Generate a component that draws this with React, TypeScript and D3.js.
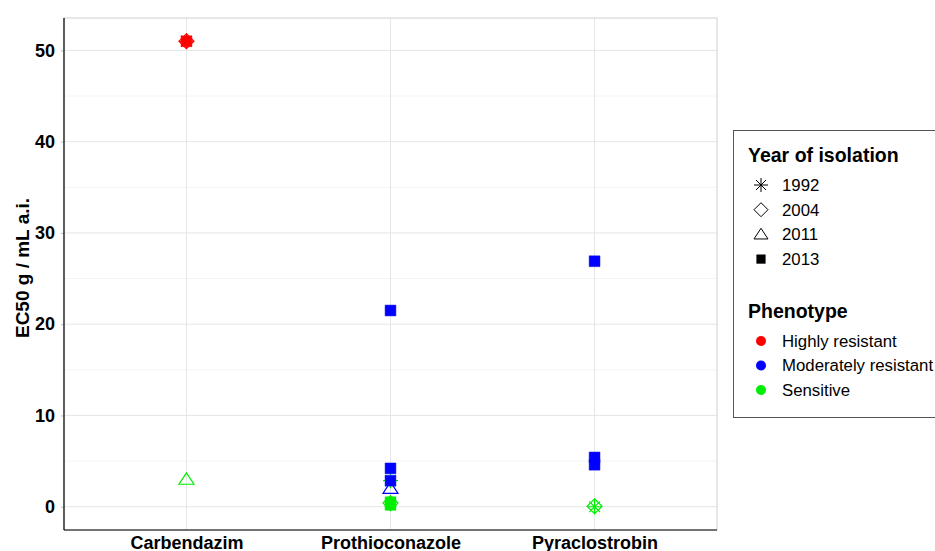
import React from "react";
import * as d3 from "d3";

// chart data
const fungicides = ["Carbendazim", "Prothioconazole", "Pyraclostrobin"];
const years = ["1992", "2004", "2011", "2013"];
const phenotypes = ["Highly resistant", "Moderately resistant", "Sensitive"];
const phenoColors = ["#ff0000", "#0000ff", "#00ee00"];

// one entry per isolate, in drawing order
const isoFungicide = [
  "Carbendazim", "Carbendazim", "Carbendazim", "Carbendazim",
  "Prothioconazole", "Prothioconazole", "Prothioconazole", "Prothioconazole",
  "Prothioconazole", "Prothioconazole", "Prothioconazole", "Prothioconazole",
  "Pyraclostrobin", "Pyraclostrobin", "Pyraclostrobin", "Pyraclostrobin", "Pyraclostrobin",
];
const isoYear = [
  "1992", "2004", "2013", "2011",
  "1992", "2013", "2013", "2013", "2011", "2004", "2013", "2013",
  "2013", "2013", "2013", "2004", "1992",
];
const isoPhenotype = [
  "Highly resistant", "Highly resistant", "Highly resistant", "Sensitive",
  "Sensitive", "Moderately resistant", "Moderately resistant", "Moderately resistant",
  "Moderately resistant", "Sensitive", "Sensitive", "Sensitive",
  "Moderately resistant", "Moderately resistant", "Moderately resistant", "Sensitive", "Sensitive",
];
const isoEC50 = [
  51, 51, 51, 3.0,
  2.85, 21.5, 4.2, 2.85, 2.0, 0.4, 0.5, 0.2,
  26.9, 5.4, 4.6, 0.05, 0.0,
];
const yTicks = [0, 10, 20, 30, 40, 50];
const yMinor = [5, 15, 25, 35, 45];

const W = 935;
const H = 551;
const margin = { top: 18, right: 218, bottom: 21, left: 64 };
const FONT = "'Liberation Sans', Arial, sans-serif";

const shapePath = (year: string, size: number) => {
  const r = size / 2;
  if (year === "1992") {
    const d = r * 0.72;
    return `M${-r},0L${r},0M0,${-r}L0,${r}M${-d},${-d}L${d},${d}M${-d},${d}L${d},${-d}`;
  }
  if (year === "2004") return `M0,${-r}L${r},0L0,${r}L${-r},0Z`;
  if (year === "2011") {
    const h = r * 0.87;
    return `M0,${-h}L${r},${h * 0.75}L${-r},${h * 0.75}Z`;
  }
  const s = r * 0.72;
  return `M${-s},${-s}H${s}V${s}H${-s}Z`;
};

const App = () => {
  const svgRef = React.useRef<SVGSVGElement>(null);

  React.useEffect(() => {
    const svg = d3.select(svgRef.current);
    svg.selectAll("*").remove();

    const x0 = margin.left;
    const x1 = W - margin.right;
    const y0 = H - margin.bottom;
    const y1 = margin.top;

    const yMax = d3.max(isoEC50) as number;
    const yMinV = d3.min(isoEC50) as number;
    const pad = (yMax - yMinV) * 0.05;
    const y = d3.scaleLinear().domain([yMinV - pad, yMax + pad]).range([y0, y1]);
    const x = d3
      .scalePoint<string>()
      .domain(fungicides)
      .range([x0, x1])
      .padding(0.6);

    svg.append("rect").attr("width", W).attr("height", H).attr("fill", "white");

    const g = svg.append("g");
    // minor grid
    g.selectAll("line.minor")
      .data(yMinor)
      .join("line")
      .attr("x1", x0)
      .attr("x2", x1)
      .attr("y1", (d) => y(d))
      .attr("y2", (d) => y(d))
      .attr("stroke", "#f4f4f4")
      .attr("stroke-width", 1);
    // major grid
    g.selectAll("line.major")
      .data(yTicks)
      .join("line")
      .attr("x1", x0)
      .attr("x2", x1)
      .attr("y1", (d) => y(d))
      .attr("y2", (d) => y(d))
      .attr("stroke", "#e6e6e6")
      .attr("stroke-width", 1);
    g.selectAll("line.vgrid")
      .data(fungicides)
      .join("line")
      .attr("x1", (d) => x(d)!)
      .attr("x2", (d) => x(d)!)
      .attr("y1", y0)
      .attr("y2", y1)
      .attr("stroke", "#e6e6e6")
      .attr("stroke-width", 1);

    // panel border
    svg
      .append("rect")
      .attr("x", x0)
      .attr("y", y1)
      .attr("width", x1 - x0)
      .attr("height", y0 - y1)
      .attr("fill", "none")
      .attr("stroke", "#d0d0d0")
      .attr("stroke-width", 1);

    // points
    const colorOf = (p: string) => phenoColors[phenotypes.indexOf(p)];
    const pts = isoEC50.map((v, i) => ({
      x: x(isoFungicide[i])!,
      y: y(v),
      year: isoYear[i],
      color: colorOf(isoPhenotype[i]),
    }));
    svg
      .append("g")
      .selectAll("path")
      .data(pts)
      .join("path")
      .attr("transform", (d) => `translate(${d.x},${d.y})`)
      .attr("d", (d) => shapePath(d.year, 15))
      .attr("fill", (d) => (d.year === "2013" ? d.color : "none"))
      .attr("stroke", (d) => d.color)
      .attr("stroke-width", (d) => (d.year === "2013" ? 0.5 : 1.2))
      .attr("stroke-linejoin", "miter");

    // axes
    const yAxis = svg
      .append("g")
      .attr("transform", `translate(${x0},0)`)
      .call(d3.axisLeft(y).tickValues(yTicks).tickSize(3).tickPadding(6));
    yAxis.select(".domain").remove();
    yAxis.selectAll("line").attr("stroke", "#bbb");
    yAxis
      .selectAll("text")
      .attr("font-family", FONT)
      .attr("font-size", 18)
      .attr("font-weight", "bold")
      .attr("fill", "black");

    const xAxis = svg
      .append("g")
      .attr("transform", `translate(0,${y0})`)
      .call(d3.axisBottom(x).tickSize(0).tickPadding(6));
    xAxis.select(".domain").remove();
    xAxis
      .selectAll("text")
      .attr("font-family", FONT)
      .attr("font-size", 18)
      .attr("font-weight", "bold")
      .attr("fill", "black");

    svg
      .append("line")
      .attr("x1", x0)
      .attr("x2", x0)
      .attr("y1", y1)
      .attr("y2", y0)
      .attr("stroke", "black")
      .attr("stroke-width", 1.2);
    svg
      .append("line")
      .attr("x1", x0)
      .attr("x2", x1)
      .attr("y1", y0)
      .attr("y2", y0)
      .attr("stroke", "black")
      .attr("stroke-width", 1.2);

    svg
      .append("text")
      .attr("transform", `translate(29,${(y0 + y1) / 2 - 6}) rotate(-90)`)
      .attr("text-anchor", "middle")
      .attr("font-family", FONT)
      .attr("font-size", 19)
      .attr("font-weight", "bold")
      .text("EC50 g / mL a.i.");

    // legend
    const lg = svg.append("g");
    lg.append("rect")
      .attr("x", 733.5)
      .attr("y", 130.5)
      .attr("width", 220)
      .attr("height", 287)
      .attr("fill", "white")
      .attr("stroke", "#555")
      .attr("stroke-width", 1);

    const title = (t: string, ty: number) =>
      lg
        .append("text")
        .attr("x", 748)
        .attr("y", ty)
        .attr("font-family", FONT)
        .attr("font-size", 19.5)
        .attr("font-weight", "bold")
        .text(t);

    title("Year of isolation", 162);
    years.forEach((yr, i) => {
      const cy = 185 + i * 24.7;
      lg.append("path")
        .attr("transform", `translate(761,${cy})`)
        .attr("d", shapePath(yr, yr === "2013" ? 12 : 14))
        .attr("fill", yr === "2013" ? "black" : "none")
        .attr("stroke", "black")
        .attr("stroke-width", yr === "2013" ? 0.5 : 1);
      lg.append("text")
        .attr("x", 782)
        .attr("y", cy)
        .attr("dy", "0.35em")
        .attr("font-family", FONT)
        .attr("font-size", 16.8)
        .text(yr);
    });

    title("Phenotype", 318);
    phenotypes.forEach((p, i) => {
      const cy = 341 + i * 24.5;
      lg.append("circle")
        .attr("cx", 761)
        .attr("cy", cy)
        .attr("r", 5)
        .attr("fill", phenoColors[i]);
      lg.append("text")
        .attr("x", 782)
        .attr("y", cy)
        .attr("dy", "0.35em")
        .attr("font-family", FONT)
        .attr("font-size", 16.8)
        .text(p);
    });
  }, []);

  return (
    <svg
      ref={svgRef}
      width={W}
      height={H}
      style={{ position: "absolute", left: 0, top: 0, display: "block" }}
    />
  );
};

export default App;
